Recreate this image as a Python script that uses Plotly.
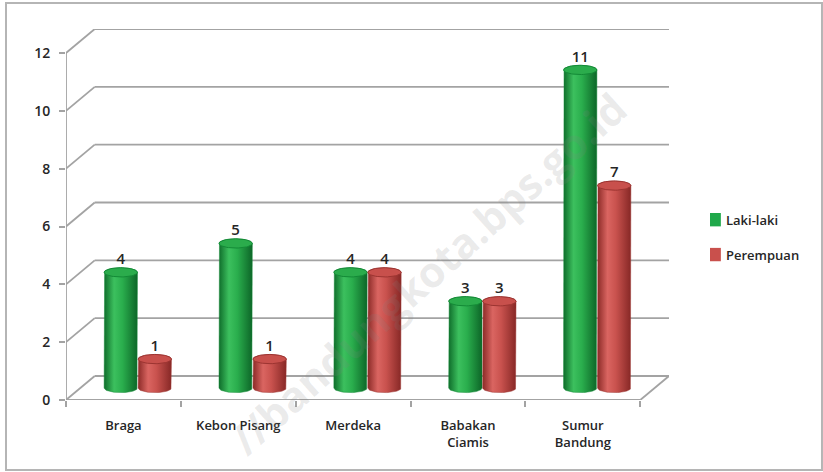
import numpy as np
import plotly.graph_objects as go

categories = ["Braga", "Kebon Pisang", "Merdeka", "Babakan<br>Ciamis", "Sumur<br>Bandung"]
laki_laki = [4, 5, 4, 3, 11]
perempuan = [1, 1, 4, 3, 7]
y_ticks = [0, 2, 4, 6, 8, 10, 12]

_FONT = "'Open Sans', Lato, sans-serif"
_GRID = "#a3a3a3"
_TEXT = "#262626"

# pseudo-3D geometry (data units)
DX, DY = 0.25, 0.83          # depth of the back wall
MX, MY = DX / 2, DY / 2      # cylinders stand in the middle of the floor
HALF_W = 0.145               # cylinder radius along x
RY = 0.16                    # ellipse radius along y

series = [
    dict(name="Laki-laki", values=laki_laki, shift=-0.148,
         scale=[[0, "#0f6d2b"], [0.3, "#3cc05e"], [0.55, "#2aae4d"], [1, "#0d6628"]],
         cap="#2bac4c", edge="#138a36", legend="#1fa84a"),
    dict(name="Perempuan", values=perempuan, shift=0.148,
         scale=[[0, "#8c2b28"], [0.3, "#da6561"], [0.55, "#c9524e"], [1, "#872826"]],
         cap="#c8504c", edge="#9c3431", legend="#c9504c"),
]

fig = go.Figure()

theta_top = np.linspace(np.pi, 0, 40)
theta_bot = np.linspace(0, -np.pi, 40)
theta_cap = np.linspace(0, 2 * np.pi, 60)

for s in series:
    for i, v in enumerate(s["values"]):
        xc = i + s["shift"] + MX
        b = MY
        t = v + MY
        xs = ([xc - HALF_W] + list(xc + HALF_W * np.cos(theta_top)) + [xc + HALF_W]
              + list(xc + HALF_W * np.cos(theta_bot)))
        ys = ([b] + list(t + RY * np.sin(theta_top)) + [b]
              + list(b + RY * np.sin(theta_bot)))
        fig.add_trace(go.Scatter(
            x=xs, y=ys, mode="lines", fill="toself",
            fillgradient=dict(type="horizontal", colorscale=s["scale"]),
            line=dict(color=s["edge"], width=0.5),
            showlegend=False, hoverinfo="skip",
        ))
        fig.add_trace(go.Scatter(
            x=xc + HALF_W * np.cos(theta_cap), y=t + RY * np.sin(theta_cap),
            mode="lines", fill="toself", fillcolor=s["cap"],
            line=dict(color=s["edge"], width=1),
            showlegend=False, hoverinfo="skip",
        ))
    # value labels
    fig.add_trace(go.Scatter(
        x=[i + s["shift"] + MX for i in range(len(s["values"]))],
        y=[v + MY + RY for v in s["values"]],
        mode="text", text=[str(v) for v in s["values"]],
        textposition="top center",
        textfont=dict(family=_FONT, size=15, color=_TEXT, weight=600),
        showlegend=False, hoverinfo="skip", cliponaxis=False,
    ))

# walls and floor
n = len(categories)
shapes = []
x_left, x_right = -0.5, n - 0.5
for v in y_ticks:
    shapes.append(dict(type="line", x0=x_left, y0=v, x1=x_left + DX, y1=v + DY))
    shapes.append(dict(type="line", x0=x_left + DX, y0=v + DY, x1=x_right + DX, y1=v + DY))
shapes.append(dict(type="line", x0=x_left, y0=0, x1=x_right, y1=0))
shapes.append(dict(type="line", x0=x_right, y0=0, x1=x_right + DX, y1=DY))
shapes.append(dict(type="line", x0=x_left, y0=0, x1=x_left, y1=max(y_ticks)))
for sh in shapes:
    sh.update(xref="x", yref="y", layer="below", line=dict(color=_GRID, width=1.8))

# outer frame
shapes.append(dict(type="rect", xref="paper", yref="paper",
                   x0=-0.0995, x1=1.2537, y0=-0.1887, y1=1.070,
                   line=dict(color="#b5b5b5", width=2)))

# legend (manual, so the text sits right next to the swatch)
annotations = []
for k, s in enumerate(series):
    yc = 0.486 - k * 0.094
    shapes.append(dict(type="rect", xref="paper", yref="paper",
                       x0=1.068, x1=1.086, y0=yc - 0.018, y1=yc + 0.018,
                       fillcolor=s["legend"], line=dict(width=0)))
    annotations.append(dict(text=s["name"], xref="paper", yref="paper",
                            x=1.092, y=yc, xanchor="left", yanchor="middle",
                            showarrow=False,
                            font=dict(family=_FONT, size=13, color=_TEXT, weight=600)))

annotations.append(dict(
    text="//bandungkota.bps.go.id", xref="paper", yref="paper",
    x=0.60, y=0.345, xanchor="center", yanchor="middle", showarrow=False, textangle=-42,
    font=dict(family="'Open Sans', sans-serif", size=42, weight="bold",
              color="rgba(130,130,130,0.16)"),
))

fig.update_layout(
    width=823, height=472,
    margin=dict(l=66, r=154, t=29, b=72),
    paper_bgcolor="white", plot_bgcolor="white",
    shapes=shapes,
    annotations=annotations,
    showlegend=False,
    xaxis=dict(
        range=[-0.5, n - 0.5 + DX], showgrid=False, zeroline=False, showline=False,
        tickvals=list(range(n)), ticktext=categories, ticks="",
        tickfont=dict(family=_FONT, size=13, color=_TEXT, weight=600),
        ticklabelstandoff=16,
        minor=dict(tickvals=[k - 0.5 for k in range(n + 1)], ticks="outside",
                   ticklen=6, tickwidth=1.8, tickcolor=_GRID, showgrid=False),
    ),
    yaxis=dict(
        range=[0, max(y_ticks) + DY], showgrid=False, zeroline=False, showline=False,
        tickvals=y_ticks, ticks="outside", ticklen=6, tickwidth=1.8, tickcolor=_GRID,
        tickfont=dict(family=_FONT, size=14, color=_TEXT, weight=600),
        ticklabelstandoff=6,
    ),
)

fig.write_html("out.html", config={"displayModeBar": False},
               post_script="document.body.style.margin = '0';")
